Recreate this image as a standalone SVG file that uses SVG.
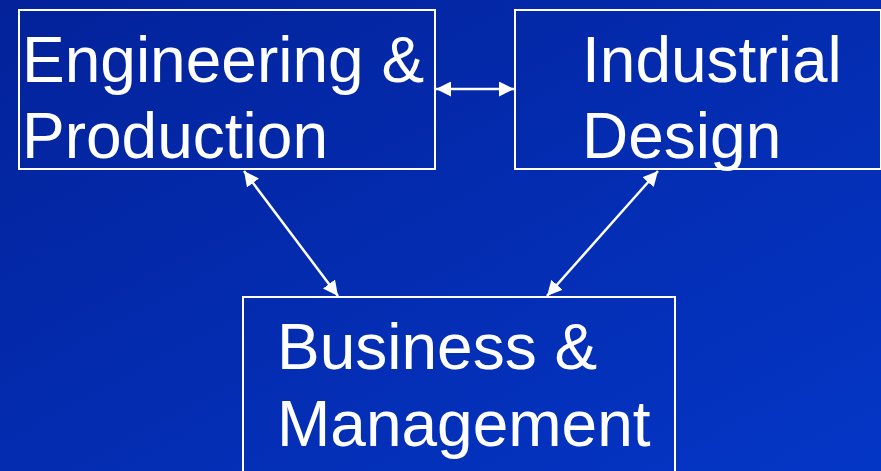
<svg xmlns="http://www.w3.org/2000/svg" width="881" height="471" viewBox="0 0 881 471">
<defs>
<linearGradient id="bg" x1="0" y1="0" x2="1" y2="1">
<stop offset="0" stop-color="#03229a"/>
<stop offset="1" stop-color="#0436c6"/>
</linearGradient>
<marker id="ah" viewBox="0 0 15 15" refX="15" refY="7.5" markerWidth="15" markerHeight="15" markerUnits="userSpaceOnUse" orient="auto-start-reverse">
<path d="M0,0 L15,7.5 L0,15 Z" fill="#ffffff"/>
</marker>
<style>
.box{fill:none;stroke:#ffffff;stroke-width:2}
.lbl{font-family:"Liberation Sans",Arial,sans-serif;font-size:64px;fill:#ffffff}
.con{stroke:#ffffff;stroke-width:2.5;fill:none;marker-start:url(#ah);marker-end:url(#ah)}
</style>
</defs>
<rect x="0" y="0" width="881" height="471" fill="url(#bg)"/>
<g id="engineering">
<rect class="box" x="19" y="10" width="416" height="159"/>
<text class="lbl" x="22" y="82">Engineering &amp;</text>
<text class="lbl" x="22" y="158">Production</text>
</g>
<g id="industrial">
<rect class="box" x="515" y="10" width="366" height="159"/>
<text class="lbl" x="582" y="82">Industrial</text>
<text class="lbl" x="582" y="158">Design</text>
</g>
<g id="business">
<rect class="box" x="243" y="297" width="432" height="180"/>
<text class="lbl" x="277" y="369">Business &amp;</text>
<text class="lbl" x="277" y="446">Management</text>
</g>
<g id="connectors">
<line class="con" x1="436" y1="89" x2="514" y2="89"/>
<line class="con" x1="244" y1="171" x2="338" y2="296"/>
<line class="con" x1="658" y1="171" x2="547" y2="296"/>
</g>
</svg>
